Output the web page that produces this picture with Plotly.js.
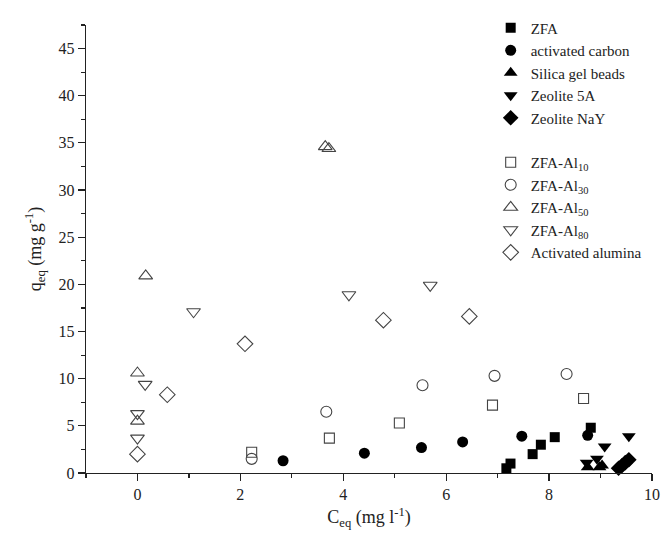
<!DOCTYPE html>
<html>
<head>
<meta charset="utf-8">
<script src="https://cdn.plot.ly/plotly-3.0.1.min.js"></script>
<style>html,body{margin:0;padding:0;background:#fff;}#chart{width:665px;height:535px;}</style>
</head>
<body>
<div id="chart"></div>
<script>
// Data
const zfaX = [7.17, 7.25, 7.68, 7.84, 8.11, 8.81];
const zfaY = [0.5, 1.0, 2.0, 3.0, 3.8, 4.8];
const carbonX = [2.83, 4.41, 5.52, 6.32, 7.47, 8.75];
const carbonY = [1.3, 2.1, 2.7, 3.3, 3.9, 4.0];
const silicaX = [8.75, 8.98, 9.03];
const silicaY = [0.6, 0.6, 0.8];
const z5aX = [8.73, 8.93, 9.08, 9.55];
const z5aY = [1.1, 1.5, 2.8, 3.9];
const naYX = [9.35, 9.42, 9.48, 9.55];
const naYY = [0.5, 0.8, 1.1, 1.4];

const al10X = [2.22, 3.73, 5.09, 6.90, 8.67];
const al10Y = [2.2, 3.7, 5.3, 7.2, 7.9];
const al30X = [2.22, 3.67, 5.54, 6.94, 8.34];
const al30Y = [1.5, 6.5, 9.3, 10.3, 10.5];
const al50X = [0.0, 0.0, 0.16, 3.65, 3.72];
const al50Y = [5.5, 10.6, 20.9, 34.6, 34.4];
const al80X = [0.0, 0.0, 0.15, 1.09, 4.11, 5.69];
const al80Y = [3.7, 6.3, 9.4, 17.1, 18.9, 19.9];
const aluminaX = [0.0, 0.58, 2.09, 4.78, 6.45];
const aluminaY = [2.0, 8.3, 13.7, 16.2, 16.6];

const names = ['ZFA', 'activated carbon', 'Silica gel beads', 'Zeolite 5A', 'Zeolite NaY',
  'ZFA-Al<sub>10</sub>', 'ZFA-Al<sub>30</sub>', 'ZFA-Al<sub>50</sub>', 'ZFA-Al<sub>80</sub>', 'Activated alumina'];

function filled(x, y, name, symbol, size) {
  return {x, y, name, type: 'scatter', mode: 'markers', legendgroup: 'a', cliponaxis: false,
    marker: {symbol, size, color: '#000', line: {width: 0}}};
}
function open(x, y, name, symbol, size) {
  return {x, y, name, type: 'scatter', mode: 'markers', legendgroup: 'b', cliponaxis: false,
    marker: {symbol, size, color: '#444', line: {width: 1.1, color: '#444'}}};
}

const traces = [
  filled(zfaX, zfaY, names[0], 'square', 10),
  filled(carbonX, carbonY, names[1], 'circle', 11),
  filled(silicaX, silicaY, names[2], 'triangle-up', 12),
  filled(z5aX, z5aY, names[3], 'triangle-down', 12),
  filled(naYX, naYY, names[4], 'diamond', 12),
  open(al10X, al10Y, names[5], 'square-open', 10),
  open(al30X, al30Y, names[6], 'circle-open', 11),
  open(al50X, al50Y, names[7], 'triangle-up-open', 12),
  open(al80X, al80Y, names[8], 'triangle-down-open', 12),
  open(aluminaX, aluminaY, names[9], 'diamond-open', 12)
];

const serif = 'Liberation Serif';
const layout = {
  width: 665, height: 535,
  margin: {l: 86, r: 13, t: 13, b: 62},
  paper_bgcolor: '#fff', plot_bgcolor: '#fff',
  font: {family: serif, size: 16, color: '#222'},
  showlegend: true,
  legend: {x: 0.715, y: 1.03, xanchor: 'left', yanchor: 'top', traceorder: 'grouped',
    tracegroupgap: 22, bgcolor: 'rgba(0,0,0,0)', font: {family: serif, size: 15, color: '#222'}},
  xaxis: {
    range: [-1, 10], dtick: 2, tick0: 0, showgrid: false, zeroline: false,
    showline: true, linecolor: '#222', linewidth: 1.2,
    ticks: 'outside', ticklen: 7, tickwidth: 1.2, tickcolor: '#222',
    minor: {dtick: 1, ticks: 'outside', ticklen: 4, tickwidth: 1.2, tickcolor: '#222'},
    tickfont: {family: serif, size: 16, color: '#222'},
    title: {text: 'C<sub>eq</sub> (mg l<sup>-1</sup>)', font: {family: serif, size: 18, color: '#222'}, standoff: 8}
  },
  yaxis: {
    range: [0, 47.5], dtick: 5, tick0: 0, showgrid: false, zeroline: false,
    showline: true, linecolor: '#222', linewidth: 1.2,
    ticks: 'outside', ticklen: 7, tickwidth: 1.2, tickcolor: '#222',
    minor: {dtick: 2.5, ticks: 'outside', ticklen: 4, tickwidth: 1.2, tickcolor: '#222'},
    tickfont: {family: serif, size: 16, color: '#222'},
    title: {text: 'q<sub>eq</sub> (mg g<sup>-1</sup>)', font: {family: serif, size: 18, color: '#222'}, standoff: 12}
  }
};

Plotly.newPlot('chart', traces, layout, {displayModeBar: false, staticPlot: true});
</script>
</body>
</html>
